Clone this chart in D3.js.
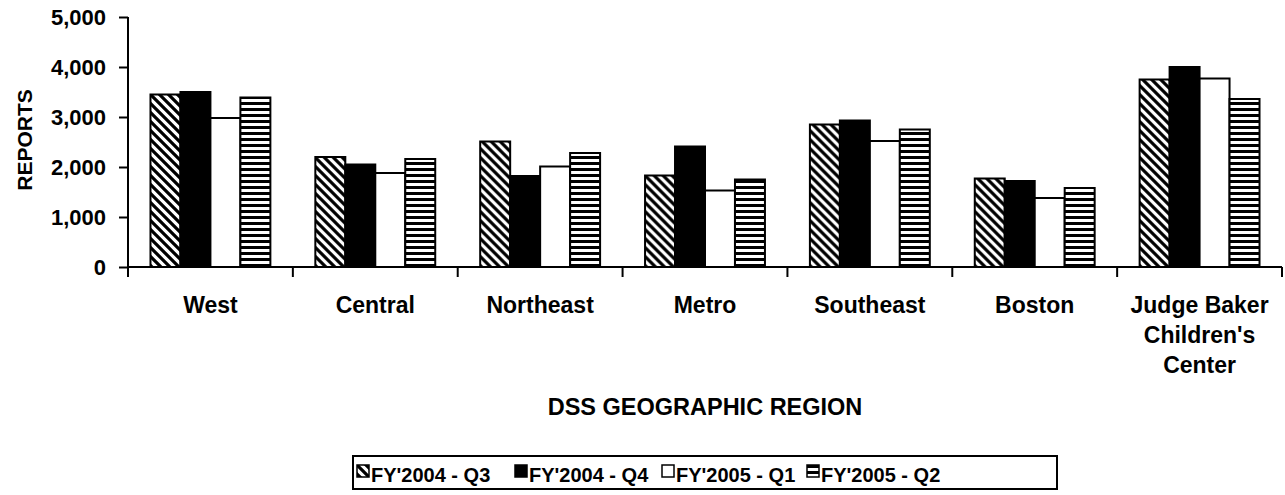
<!DOCTYPE html>
<html>
<head>
<meta charset="utf-8">
<script src="https://cdn.jsdelivr.net/npm/d3@7/dist/d3.min.js"></script>
<style>
  html, body { margin: 0; padding: 0; background: #fff; }
  svg { display: block; }
  text { font-family: "Liberation Sans", Arial, sans-serif; font-weight: bold; fill: #000; }
</style>
</head>
<body>
<svg id="chart" width="1285" height="495"></svg>
<script>
// DSS geographic regions (label lines for wrapped names)
const categories = ["West", "Central", "Northeast", "Metro", "Southeast", "Boston", "Judge Baker Children's Center"];
const categoryLines = [["West"], ["Central"], ["Northeast"], ["Metro"], ["Southeast"], ["Boston"], ["Judge Baker", "Children's", "Center"]];

// Quarterly report counts per region
const seriesNames = ["FY'2004 - Q3", "FY'2004 - Q4", "FY'2005 - Q1", "FY'2005 - Q2"];
const fy2004Q3 = [3450, 2200, 2510, 1830, 2850, 1770, 3750];
const fy2004Q4 = [3500, 2050, 1820, 2410, 2930, 1720, 4000];
const fy2005Q1 = [2980, 1880, 2010, 1530, 2520, 1380, 3770];
const fy2005Q2 = [3390, 2160, 2280, 1750, 2750, 1580, 3360];
const seriesValues = [fy2004Q3, fy2004Q4, fy2005Q1, fy2005Q2];

const yTicks = [0, 1000, 2000, 3000, 4000, 5000];
const yTitle = "REPORTS";
const xTitle = "DSS GEOGRAPHIC REGION";

const fills = ["url(#diag)", "#000", "#fff", "url(#horiz)"];

const svg = d3.select("#chart");
const plot = { left: 128, right: 1282, top: 17, bottom: 267 };

// Fill patterns
const defs = svg.append("defs");
const diag = defs.append("pattern")
  .attr("id", "diag").attr("patternUnits", "userSpaceOnUse")
  .attr("width", 9).attr("height", 9);
diag.append("rect").attr("width", 9).attr("height", 9).attr("fill", "#fff");
diag.append("path")
  .attr("d", "M-1,-1 L10,10 M-3,6 L3,12 M6,-3 L12,3")
  .attr("stroke", "#000").attr("stroke-width", 3.2);

const horiz = defs.append("pattern")
  .attr("id", "horiz").attr("patternUnits", "userSpaceOnUse")
  .attr("width", 6).attr("height", 6);
horiz.append("rect").attr("width", 6).attr("height", 6).attr("fill", "#fff");
horiz.append("rect").attr("y", 0).attr("width", 6).attr("height", 3).attr("fill", "#000");

// Scales
const x = d3.scaleBand().domain(categories).range([plot.left, plot.right]).paddingInner(0).paddingOuter(0);
const xs = d3.scaleBand().domain(seriesNames).range([0, x.bandwidth()]).paddingInner(0).paddingOuter(0.75);
const y = d3.scaleLinear().domain([0, 5000]).range([plot.bottom, plot.top]);

// Bars
const groups = svg.append("g").selectAll("g")
  .data(categories)
  .join("g")
  .attr("transform", d => `translate(${x(d)},0)`);

groups.selectAll("rect")
  .data((c, ci) => seriesNames.map((s, si) => ({ s, si, v: seriesValues[si][ci] })))
  .join("rect")
  .attr("x", d => xs(d.s))
  .attr("width", xs.bandwidth())
  .attr("y", d => y(d.v))
  .attr("height", d => y(0) - y(d.v))
  .attr("fill", d => fills[d.si])
  .attr("stroke", "#000")
  .attr("stroke-width", 2);

// Y axis
const yAxis = d3.axisLeft(y).tickValues(yTicks).tickFormat(d3.format(",")).tickSize(9).tickPadding(13);
const yg = svg.append("g").attr("transform", `translate(${plot.left},0)`).call(yAxis);
yg.select(".domain").attr("stroke", "#000").attr("stroke-width", 2)
  .attr("d", `M0,${plot.top}V${plot.bottom + 10}`);
yg.selectAll(".tick line").attr("stroke", "#000").attr("stroke-width", 2);
yg.selectAll(".tick text").style("font-size", "22px").style("font-family", "'Liberation Sans', Arial, sans-serif").style("font-weight", "bold");

// X axis line with ticks on category boundaries
const xg = svg.append("g");
xg.append("line")
  .attr("x1", plot.left).attr("x2", plot.right)
  .attr("y1", y(0)).attr("y2", y(0))
  .attr("stroke", "#000").attr("stroke-width", 2);
const boundaries = categories.map(c => x(c)).concat([x(categories[categories.length - 1]) + x.bandwidth()]);
xg.selectAll("line.tk")
  .data(boundaries.slice(1))
  .join("line")
  .attr("class", "tk")
  .attr("x1", d => d).attr("x2", d => d)
  .attr("y1", y(0)).attr("y2", y(0) + 10)
  .attr("stroke", "#000").attr("stroke-width", 2);

// Category labels
const labels = svg.append("g").selectAll("text")
  .data(categories)
  .join("text")
  .attr("x", d => x(d) + x.bandwidth() / 2)
  .attr("y", 313)
  .attr("text-anchor", "middle")
  .style("font-size", "23px");
labels.each(function (d, i) {
  d3.select(this).selectAll("tspan")
    .data(categoryLines[i])
    .join("tspan")
    .attr("x", x(d) + x.bandwidth() / 2)
    .attr("dy", (l, j) => j === 0 ? 0 : 30)
    .text(l => l);
});

// Axis titles
svg.append("text")
  .attr("transform", `translate(32,${(plot.top + plot.bottom) / 2 - 2}) rotate(-90)`)
  .attr("text-anchor", "middle")
  .style("font-size", "21px")
  .text(yTitle);

svg.append("text")
  .attr("x", (plot.left + plot.right) / 2)
  .attr("y", 415)
  .attr("text-anchor", "middle")
  .style("font-size", "23.5px")
  .text(xTitle);

// Legend
const legend = svg.append("g");
legend.append("rect")
  .attr("x", 353).attr("y", 456).attr("width", 704).attr("height", 33)
  .attr("fill", "#fff").attr("stroke", "#000").attr("stroke-width", 2);
const legendX = [357, 515, 662, 807];
const items = legend.selectAll("g.item")
  .data(seriesNames)
  .join("g")
  .attr("class", "item")
  .attr("transform", (d, i) => `translate(${legendX[i]},465)`);
items.append("rect")
  .attr("width", 12).attr("height", 12)
  .attr("fill", (d, i) => fills[i])
  .attr("stroke", "#000").attr("stroke-width", 1.5);
items.append("text")
  .attr("x", 14).attr("y", 17)
  .style("font-size", "20px")
  .text(d => d);
</script>
</body>
</html>
